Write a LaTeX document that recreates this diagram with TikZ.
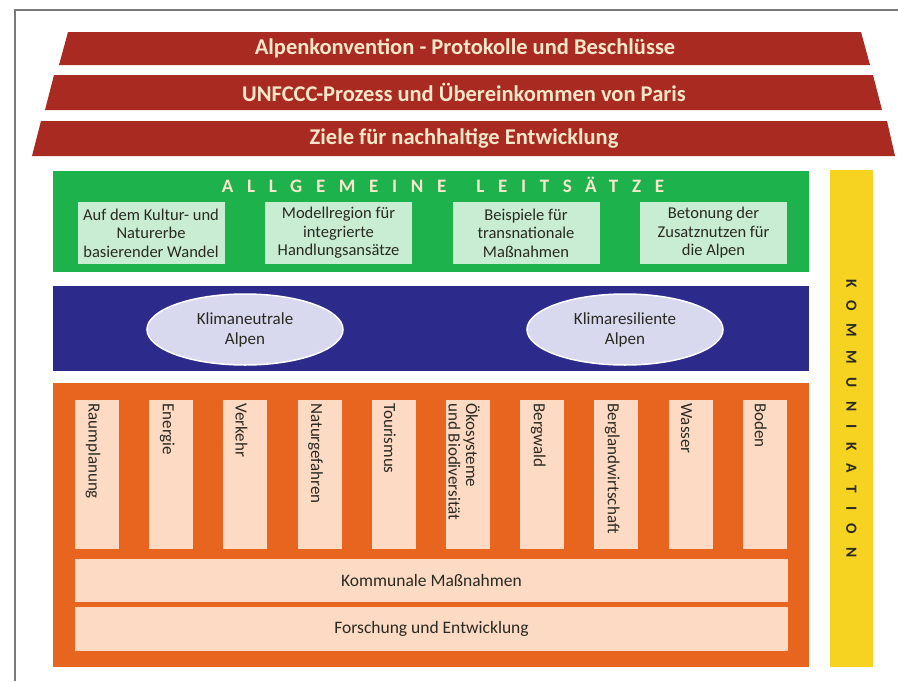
\documentclass[tikz,border=0pt]{standalone}
\usepackage{fontspec}
\setmainfont{Carlito}
\usetikzlibrary{shapes.geometric}
\definecolor{bandred}{HTML}{A82A20}
\definecolor{cream}{HTML}{F6E8C8}
\definecolor{leitgreen}{HTML}{1DB24C}
\definecolor{mint}{HTML}{C8EDD3}
\definecolor{darktext}{HTML}{2A2A22}
\definecolor{alpblue}{HTML}{2C2A8A}
\definecolor{lavender}{HTML}{D8D8EE}
\definecolor{sectorange}{HTML}{E8651F}
\definecolor{peach}{HTML}{FCDAC4}
\definecolor{kommyellow}{HTML}{F6D321}
\definecolor{framegray}{HTML}{7A7A7A}
\tikzset{
  bandtext/.style={text=cream,font=\fontsize{22.5}{26}\selectfont\bfseries},
  guidebox/.style={fill=mint,text=darktext,minimum width=147pt,minimum height=62pt,
    align=center,inner sep=1pt,font=\fontsize{16.5}{18.5}\selectfont},
  goalell/.style={ellipse,fill=lavender,draw=white,line width=1.5pt,minimum width=196pt,
    minimum height=71pt,align=center,text=darktext,font=\fontsize{17}{20}\selectfont},
  sectorbox/.style={fill=peach,minimum width=44pt,minimum height=149pt,inner sep=0pt},
  sectortext/.style={rotate=-90,anchor=west,align=left,text=darktext,
    font=\fontsize{17}{17.5}\selectfont},
  crossbar/.style={fill=peach,minimum width=713pt,inner sep=0pt,text=darktext,
    font=\fontsize{17.5}{20}\selectfont}
}
\begin{document}
\begin{tikzpicture}[x=1pt,y=-1pt]
\useasboundingbox (0,0) rectangle (898,681);
\fill[white] (0,0) rectangle (898,681);
% frame
\draw[framegray,line width=1.3pt] (15,681) coordinate (frame bl) -- (15,10) coordinate (frame tl) -- (898,10);
% three red bands
\fill[bandred] (68,32) -- (861,32) -- (870,65) -- (59,65) -- cycle;
\node[bandtext] (alpen) at (465,48.5) {Alpenkonvention - Protokolle und Beschlüsse};
\fill[bandred] (54,75) -- (873,75) -- (882,110) -- (45,110) -- cycle;
\node[bandtext] (unfccc) at (464,92.5) {UNFCCC-Prozess und Übereinkommen von Paris};
\fill[bandred] (41,121) -- (887,121) -- (895,156) -- (32,156) -- cycle;
\node[bandtext] (sdg) at (464,138.5) {Ziele für nachhaltige Entwicklung};
% guiding principles
\node[fill=leitgreen,minimum width=756pt,minimum height=101pt,inner sep=0pt] (leitsatz) at (431,221.5) {};
\node[text=cream,font=\fontsize{19}{22}\selectfont\bfseries\addfontfeature{LetterSpace=72}] (leittitle) at (443,185) {ALLGEMEINE\hspace{12pt} LEITSÄTZE};
\node[guidebox] (kultur) at (151,233) {Auf dem Kultur- und\\Naturerbe\\basierender Wandel};
\node[guidebox] (modell) at (338.5,233) {Modellregion für\\integrierte\\Handlungsansätze};
\node[guidebox] (beispiel) at (526,233) {Beispiele für\\transnationale\\Maßnahmen};
\node[guidebox] (nutzen) at (713.5,233) {Betonung der\\Zusatznutzen für\\die Alpen};
% goals
\node[fill=alpblue,minimum width=756pt,minimum height=85pt,inner sep=0pt] (ziele) at (431,328.5) {};
\node[goalell] (neutral) at (245,329.5) {Klimaneutrale\\Alpen};
\node[goalell] (resilient) at (625,329.5) {Klimaresiliente\\Alpen};
% sectors
\node[fill=sectorange,minimum width=756pt,minimum height=284pt,inner sep=0pt] (sektoren) at (431,525) {};
\foreach \name [count=\i from 0] in {Raumplanung,Energie,Verkehr,Naturgefahren,Tourismus,%
    {Ökosysteme\\und Biodiversität},Bergwald,Berglandwirtschaft,Wasser,Boden} {
  \node[sectorbox] (sector\i) at (97+74.2*\i,474.5) {};
  \node[sectortext] (sectorlabel\i) at (sector\i.north) [yshift=-4pt] {\name};
}
\node[crossbar,minimum height=43pt] (kommunal) at (431.5,580.5) {Kommunale Maßnahmen};
\node[crossbar,minimum height=44pt] (forschung) at (431.5,629) {Forschung und Entwicklung};
% communication
\node[fill=kommyellow,minimum width=43pt,minimum height=497pt,inner sep=0pt] (komm) at (851.5,418.5) {};
\node[rotate=-90,text=darktext,font=\fontsize{15.5}{18}\selectfont\bfseries\addfontfeature{LetterSpace=86}] (kommtext) at (komm.center) {KOMMUNIKATION};
\end{tikzpicture}
\end{document}
